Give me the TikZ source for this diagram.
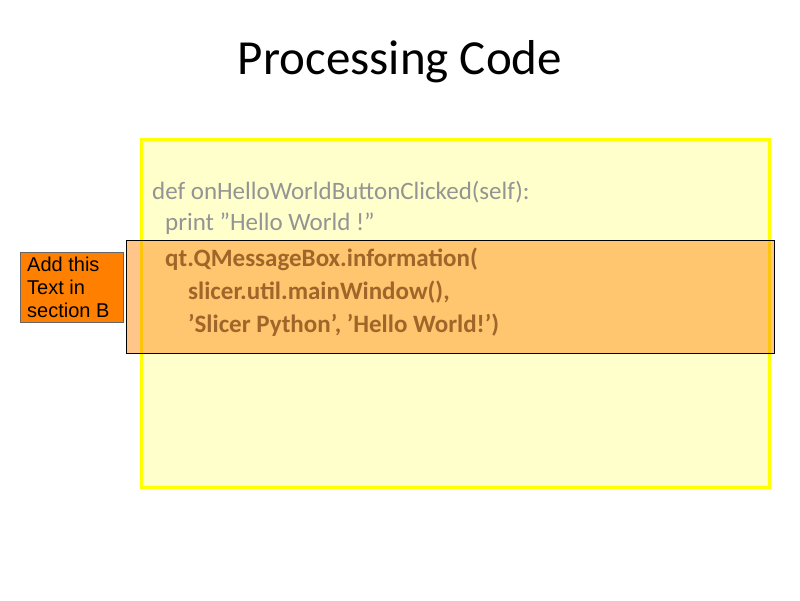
\documentclass[tikz,border=0pt]{standalone}
\usepackage{fontspec}
\setmainfont{Carlito}
\newfontfamily\arialf{Liberation Sans}
\definecolor{ybord}{RGB}{255,255,0}
\definecolor{yfill}{RGB}{255,255,204}
\definecolor{ov}{RGB}{255,140,20}
\definecolor{lab}{RGB}{255,128,0}
\newcommand{\dq}{\symbol{34}}
\newcommand{\sq}{\symbol{39}}
\begin{document}
\begin{tikzpicture}[x=1pt,y=-1pt,
  code/.style={anchor=west,inner sep=0,text=black!42,font=\fontsize{25}{30}\selectfont},
  bcode/.style={code,text=black!75,font=\fontsize{25}{30}\selectfont\bfseries}]
\useasboundingbox (0,0) rectangle (800,600);
\fill[white] (0,0) rectangle (800,600);
\node (title) at (400,62) {\fontsize{49}{58}\selectfont Processing Code};
\draw[line width=3, draw=ybord, fill=yfill] (141,139) rectangle (769,487);
\node[code] (l1) at (152,192) {def onHelloWorldButtonClicked(self):};
\node[code] (l2) at (165,224) {print \dq Hello World !\dq};
\node[bcode] (l3) at (165,259) {qt.QMessageBox.information(};
\node[bcode] (l4) at (188,292) {slicer.util.mainWindow(),};
\node[bcode] (l5) at (188,325) {\sq Slicer Python\sq, \sq Hello World!\sq)};
\fill[ov, opacity=0.5] (126,240) rectangle (774,353);
\draw[black, line width=0.8] (126,240) rectangle (774,353);
\node[draw=black!60, line width=0.5, fill=lab, minimum width=103, minimum height=70, inner sep=0, anchor=north west] (labbox) at (20,252) {};
\node[anchor=west, align=left, inner sep=0, font=\arialf\fontsize{20}{23}\selectfont] (labtext) at (27,287) {Add this\\Text in\\section B};
\end{tikzpicture}
\end{document}
